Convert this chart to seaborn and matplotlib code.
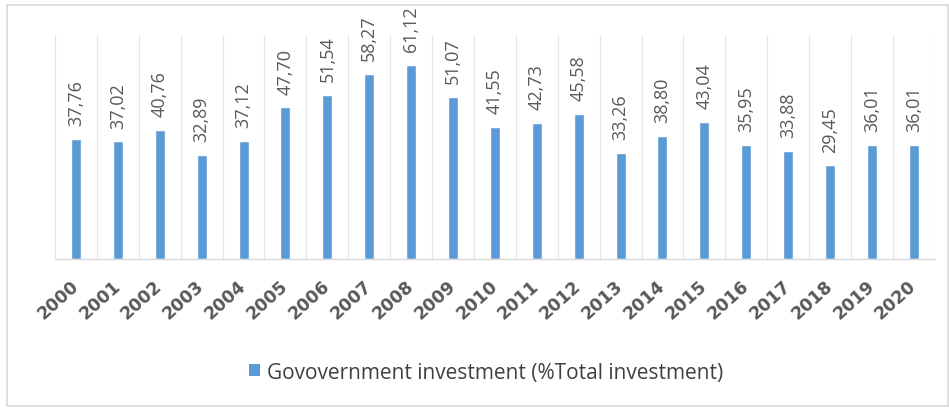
import matplotlib
matplotlib.use("Agg")
import matplotlib.pyplot as plt
import seaborn as sns
import pandas as pd
from matplotlib.patches import Rectangle, Patch

years = [str(y) for y in range(2000, 2021)]
values = [37.76, 37.02, 40.76, 32.89, 37.12, 47.70, 51.54, 58.27, 61.12, 51.07,
          41.55, 42.73, 45.58, 33.26, 38.80, 43.04, 35.95, 33.88, 29.45, 36.01, 36.01]
series_name = "Govovernment investment (%Total investment)"

sns.set_theme(style="white")
plt.rcParams['font.family'] = ['Open Sans', 'DejaVu Sans']

df = pd.DataFrame({"year": years, "value": values})

fig = plt.figure(figsize=(9.49, 4.10), dpi=100)
ax = fig.add_axes([0.058, 0.366, 0.927, 0.546])
bar_color = "#5B9BD5"
sns.barplot(data=df, x="year", y="value", color=bar_color, width=0.24, ax=ax,
            saturation=1)

ax.set_ylim(0, 70.5)
ax.set_xlim(-0.5, len(years) - 0.5)
ax.set_xlabel("")
ax.set_ylabel("")
ax.set_yticks([])
for s in ["top", "right", "left"]:
    ax.spines[s].set_visible(False)
ax.spines["bottom"].set_color("#D9D9D9")
ax.spines["bottom"].set_linewidth(1)

for i in range(len(years) + 1):
    ax.axvline(i - 0.5, color="#E6E6E6", linewidth=0.9, zorder=0)

labels = [f"{v:.2f}".replace(".", ",") for v in values]
ax.bar_label(ax.containers[0], labels=labels, rotation=90, padding=10,
             color="#595959", fontsize=13)

ax.tick_params(axis="x", length=0, pad=17)
for lbl in ax.get_xticklabels():
    lbl.set_rotation(42)
    lbl.set_rotation_mode("anchor")
    lbl.set_ha("right")
    lbl.set_va("center")
    lbl.set_fontweight("bold")
    lbl.set_color("#595959")
    lbl.set_fontsize(12.5)
    lbl.set_family(["DejaVu Sans"])

handles = [Patch(facecolor=bar_color, edgecolor="none", label=series_name)]
fig.legend(handles=handles, loc="center", bbox_to_anchor=(0.5126, 0.090),
           frameon=False, fontsize=15, handlelength=0.5, handleheight=0.5,
           handletextpad=0.35, labelcolor="#404040")

fig.patches.append(Rectangle((7 / 949, 3 / 410), 941 / 949, 401 / 410,
                             transform=fig.transFigure, fill=False,
                             edgecolor="#D9D9D9", linewidth=1.2))

fig.savefig("out.png", dpi=100)
